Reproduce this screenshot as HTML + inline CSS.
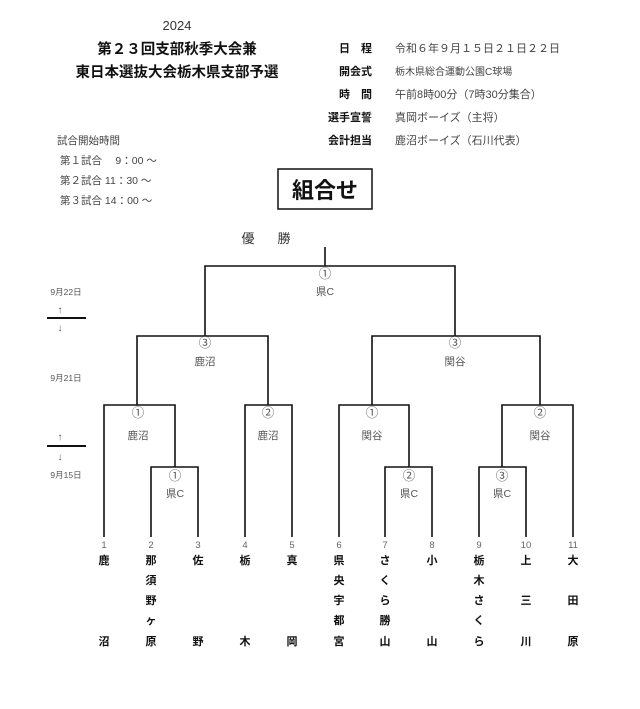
<!DOCTYPE html>
<html><head><meta charset="utf-8"><style>
html,body{margin:0;padding:0;background:#fff;}
svg{display:block;font-family:"Liberation Sans","Noto Sans CJK JP",sans-serif;}
.b{font-weight:bold;fill:#111}
.g{fill:#555}
.c{font-size:12.5px}
</style></head><body>
<svg width="640" height="709" viewBox="0 0 640 709">
<g text-anchor="middle">
<text x="177" y="30" font-size="13" fill="#333">2024</text>
<text x="177" y="54" font-size="14.5" class="b">第２３回支部秋季大会兼</text>
<text x="177" y="77" font-size="14.5" class="b">東日本選抜大会栃木県支部予選</text>
</g>
<g font-size="11" class="b" text-anchor="end">
<text x="372" y="52">日　程</text>
<text x="372" y="75">開会式</text>
<text x="372" y="98">時　間</text>
<text x="372" y="121">選手宣誓</text>
<text x="372" y="144">会計担当</text>
</g>
<g font-size="11" fill="#444">
<text x="395" y="52">令和６年９月１５日２１日２２日</text>
<text x="395" y="75" font-size="10">栃木県総合運動公園C球場</text>
<text x="395" y="98">午前8時00分（7時30分集合）</text>
<text x="395" y="121">真岡ボーイズ（主将）</text>
<text x="395" y="144">鹿沼ボーイズ（石川代表）</text>
</g>
<g font-size="10.5" fill="#444">
<text x="57" y="144">試合開始時間</text>
<text x="60" y="164">第１試合　 9：00 ～</text>
<text x="60" y="184">第２試合  11：30 ～</text>
<text x="60" y="204">第３試合  14：00 ～</text>
</g>
<rect x="278" y="169" width="94" height="40" fill="none" stroke="#111" stroke-width="1.5"/>
<text x="325" y="198" font-size="22" class="b" text-anchor="middle">組合せ</text>
<text x="248" y="243" font-size="13" fill="#333" text-anchor="middle">優</text>
<text x="284" y="243" font-size="13" fill="#333" text-anchor="middle">勝</text>
<g fill="none" stroke="#111" stroke-width="1.6">
<path d="M325 247V266M205 336V266H455V336"/>
<path d="M137 405V336H268V405M372 405V336H540V405"/>
<path d="M104 537V405H175V467M245 537V405H292V537M339 537V405H409V467M573 537V405H502V467"/>
<path d="M151 537V467H198V537M385 537V467H432V537M479 537V467H526V537"/>
<path d="M47 318H86M47 446H86" stroke-width="2"/>
</g>
<g font-size="10.5" class="g" text-anchor="middle">
<text x="325" y="278" class="c">①</text><text x="325" y="295">県C</text>
<text x="205" y="347" class="c">③</text><text x="205" y="365">鹿沼</text>
<text x="455" y="347" class="c">③</text><text x="455" y="365">関谷</text>
<text x="138" y="417" class="c">①</text><text x="138" y="439">鹿沼</text>
<text x="268" y="417" class="c">②</text><text x="268" y="439">鹿沼</text>
<text x="372" y="417" class="c">①</text><text x="372" y="439">関谷</text>
<text x="540" y="417" class="c">②</text><text x="540" y="439">関谷</text>
<text x="175" y="480" class="c">①</text><text x="175" y="497">県C</text>
<text x="409" y="480" class="c">②</text><text x="409" y="497">県C</text>
<text x="502" y="480" class="c">③</text><text x="502" y="497">県C</text>
</g>
<g font-size="8.5" class="g" text-anchor="middle">
<text x="66" y="295">9月22日</text>
<text x="60" y="313" font-size="10">↑</text>
<text x="60" y="331" font-size="10">↓</text>
<text x="66" y="381">9月21日</text>
<text x="60" y="440" font-size="10">↑</text>
<text x="60" y="460" font-size="10">↓</text>
<text x="66" y="478">9月15日</text>
</g>
<g font-size="9.5" fill="#666" text-anchor="middle">
<text x="104" y="548">1</text><text x="151" y="548">2</text><text x="198" y="548">3</text><text x="245" y="548">4</text><text x="292" y="548">5</text><text x="339" y="548">6</text><text x="385" y="548">7</text><text x="432" y="548">8</text><text x="479" y="548">9</text><text x="526" y="548">10</text><text x="573" y="548">11</text>
</g>
<g font-size="11" class="b" text-anchor="middle">
<text x="104" y="564">鹿</text><text x="104" y="645">沼</text>
<text x="151" y="564">那</text><text x="151" y="584">須</text><text x="151" y="604">野</text><text x="151" y="624">ヶ</text><text x="151" y="645">原</text>
<text x="198" y="564">佐</text><text x="198" y="645">野</text>
<text x="245" y="564">栃</text><text x="245" y="645">木</text>
<text x="292" y="564">真</text><text x="292" y="645">岡</text>
<text x="339" y="564">県</text><text x="339" y="584">央</text><text x="339" y="604">宇</text><text x="339" y="624">都</text><text x="339" y="645">宮</text>
<text x="385" y="564">さ</text><text x="385" y="584">く</text><text x="385" y="604">ら</text><text x="385" y="624">勝</text><text x="385" y="645">山</text>
<text x="432" y="564">小</text><text x="432" y="645">山</text>
<text x="479" y="564">栃</text><text x="479" y="584">木</text><text x="479" y="604">さ</text><text x="479" y="624">く</text><text x="479" y="645">ら</text>
<text x="526" y="564">上</text><text x="526" y="604">三</text><text x="526" y="645">川</text>
<text x="573" y="564">大</text><text x="573" y="604">田</text><text x="573" y="645">原</text>
</g>
</svg>
</body></html>
